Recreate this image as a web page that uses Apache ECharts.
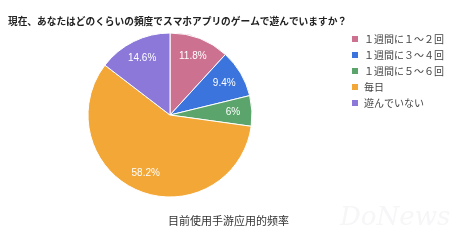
<!DOCTYPE html>
<html><head><meta charset="utf-8">
<script src="https://cdn.jsdelivr.net/npm/echarts@6/dist/echarts.min.js"></script>
<style>html,body{margin:0;padding:0;background:#fff}#c{width:450px;height:243px}</style>
</head><body><div id="c"></div>
<script>
const categories = ['１週間に１〜２回', '１週間に３〜４回', '１週間に５〜６回', '毎日', '遊んでいない'];
const values = [11.8, 9.4, 6, 58.2, 14.6];
const colors = ['#cc7190', '#3b74dc', '#5ba56c', '#f2a736', '#8b78d8'];
const titleText = '現在、あなたはどのくらいの頻度でスマホアプリのゲームで遊んでいますか？';
const captionText = '目前使用手游应用的频率';

const data = categories.map((c, i) => ({ name: c, value: values[i], itemStyle: { color: colors[i] } }));
const chart = echarts.init(document.getElementById('c'), null, { renderer: 'canvas' });
chart.setOption({
  animation: false,
  title: {
    text: titleText, left: 3, top: 11,
    textStyle: { fontSize: 9.7, fontWeight: 'bold', color: '#222', fontFamily: 'Noto Sans CJK JP' }
  },
  legend: {
    orient: 'vertical', left: 345, top: 29, itemWidth: 8, itemHeight: 8, itemGap: 6,
    icon: 'rect',
    data: categories,
    textStyle: { fontSize: 10, color: '#444', fontFamily: 'Noto Sans CJK JP' }
  },
  graphic: [
    { type: 'text', left: 168, top: 215, style: { text: captionText, fontSize: 11, fill: '#333', fontFamily: 'Noto Sans CJK SC' } },
    { type: 'text', left: 340, top: 205, style: { text: 'DoNews', fontSize: 26, fontStyle: 'italic', fill: '#f6f6f8', fontFamily: 'DejaVu Serif' } }
  ],
  series: [
    {
      type: 'pie', center: [170, 115], radius: [0, 82], startAngle: 90, clockwise: true,
      data: data,
      itemStyle: { borderColor: '#fff', borderWidth: 1 },
      label: { show: false }, labelLine: { show: false }, silent: true
    },
    {
      type: 'pie', center: [170, 115], radius: [38, 82], startAngle: 90, clockwise: true,
      data: data.map(d => ({ name: d.name, value: d.value, itemStyle: { color: 'rgba(0,0,0,0)' } })),
      itemStyle: { borderWidth: 0 },
      label: { show: true, position: 'inside', formatter: p => p.value + '%', color: '#fff', fontSize: 10, fontFamily: 'Liberation Sans' },
      labelLine: { show: false }, silent: true, legendHoverLink: false
    }
  ]
});
</script></body></html>
